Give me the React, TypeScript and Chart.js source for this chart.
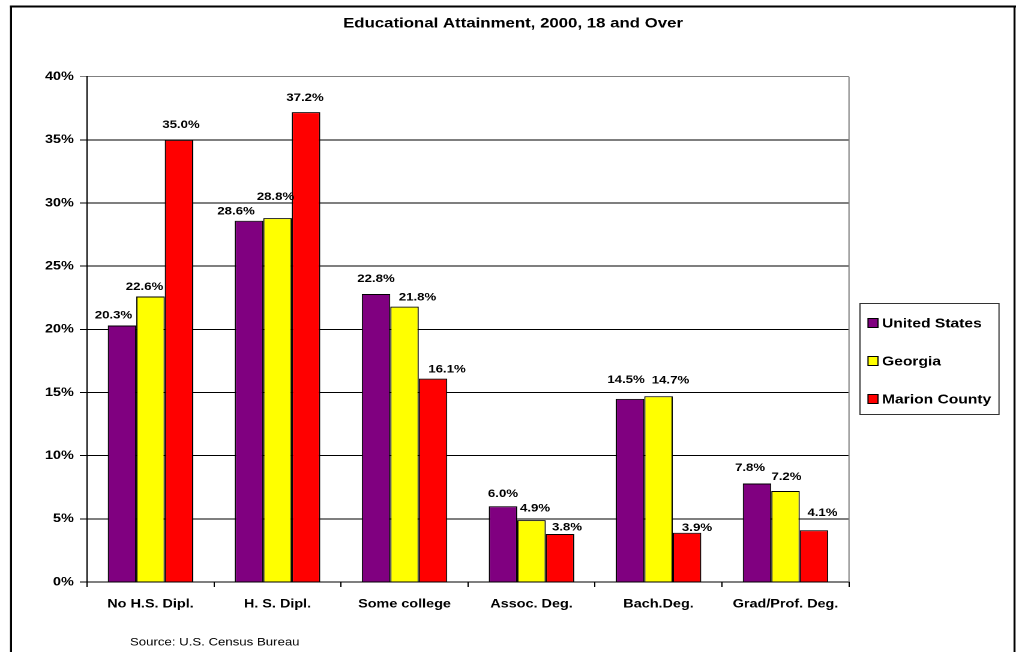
import React, { useEffect, useRef } from "react";
import { Chart, registerables } from "chart.js";

Chart.register(...registerables);

const categories = [
  "No H.S. Dipl.",
  "H. S. Dipl.",
  "Some college",
  "Assoc. Deg.",
  "Bach.Deg.",
  "Grad/Prof. Deg.",
];
const unitedStates = [20.3, 28.6, 22.8, 6.0, 14.5, 7.8];
const georgia = [22.6, 28.8, 21.8, 4.9, 14.7, 7.2];
const marionCounty = [35.0, 37.2, 16.1, 3.8, 3.9, 4.1];
const seriesNames = ["United States", "Georgia", "Marion County"];
const seriesColors = ["#800080", "#FFFF00", "#FF0000"];
const yMin = 0;
const yMax = 40;
const yStep = 5;
const titleText = "Educational Attainment, 2000, 18 and Over";
const sourceText = "Source: U.S. Census Bureau";

// Label nudges (styling only): horizontal shift and gap above bar top, in page px
const labelShiftX = [
  [-8.5, -13, 0, 0, -4, -7],
  [-6, -2, 13, 3.5, 12, 1],
  [2, -1, 14, 7, 10, 8.5],
];
const labelGap = [
  [7, 6, 12, 9, 16, 12.5],
  [6.5, 18, 6, 8.7, 13, 11],
  [12, 11, 6, 3.5, 1.5, 14],
];

const PAGE_W = 1019;
const PAGE_H = 652;
const LOGICAL_W = 849;
const SCALE_X = PAGE_W / LOGICAL_W;
const rx = (x: number) => x / SCALE_X;
const FONT = "'Liberation Sans', Arial, sans-serif";

const decorPlugin = {
  id: "decor",
  beforeDraw(chart: any) {
    const ctx = chart.ctx;
    ctx.save();
    ctx.fillStyle = "#ffffff";
    ctx.fillRect(0, 0, chart.width, chart.height);
    ctx.restore();
  },
  afterDraw(chart: any) {
    const ctx = chart.ctx;
    const a = chart.chartArea;
    ctx.save();

    // plot area right border
    ctx.strokeStyle = "#808080";
    ctx.lineWidth = 1;
    ctx.beginPath();
    ctx.moveTo(a.right, a.top);
    ctx.lineTo(a.right, a.bottom);
    ctx.stroke();

    // data labels
    ctx.fillStyle = "#000";
    ctx.font = `bold 11px ${FONT}`;
    ctx.textAlign = "center";
    ctx.textBaseline = "alphabetic";
    chart.data.datasets.forEach((ds: any, i: number) => {
      const meta = chart.getDatasetMeta(i);
      meta.data.forEach((el: any, j: number) => {
        const v = ds.data[j] as number;
        const dx = rx(labelShiftX[i][j]);
        ctx.fillText(v.toFixed(1) + "%", el.x + dx, el.y - labelGap[i][j]);
      });
    });

    // title
    ctx.font = `bold 14px ${FONT}`;
    ctx.textAlign = "center";
    ctx.fillText(titleText, rx(513), 27.3);

    // source
    ctx.font = `11px ${FONT}`;
    ctx.textAlign = "left";
    ctx.fillText(sourceText, rx(130), 645.7);

    // legend
    const lx0 = rx(860);
    const lx1 = rx(999);
    ctx.strokeStyle = "#333";
    ctx.lineWidth = 1;
    ctx.strokeRect(lx0, 303.5, lx1 - lx0, 111);
    const centers = [323, 361, 399];
    ctx.font = `bold 13px ${FONT}`;
    chart.data.datasets.forEach((ds: any, i: number) => {
      const cy = centers[i];
      const sx = rx(868);
      const sw = rx(878) - rx(868);
      ctx.fillStyle = ds.backgroundColor;
      ctx.fillRect(sx, cy - 4.5, sw, 9);
      ctx.strokeStyle = "#000";
      ctx.strokeRect(sx, cy - 4.5, sw, 9);
      ctx.fillStyle = "#000";
      ctx.textAlign = "left";
      ctx.fillText(ds.label, rx(882), cy + 4.6);
    });

    // outer border
    ctx.fillStyle = "#000";
    ctx.fillRect(rx(10), 5.5, rx(1016) - rx(10), 2);
    ctx.fillRect(rx(10), 5.5, rx(2), PAGE_H + 10);
    ctx.fillRect(rx(1013.5), 5.5, rx(2), PAGE_H + 10);

    ctx.restore();
  },
};

export default function App() {
  const canvasRef = useRef<HTMLCanvasElement | null>(null);

  useEffect(() => {
    if (!canvasRef.current) return;
    const seriesData = [unitedStates, georgia, marionCounty];
    const chart = new Chart(canvasRef.current, {
      type: "bar",
      data: {
        labels: categories,
        datasets: seriesNames.map((name, i) => ({
          label: name,
          data: seriesData[i],
          backgroundColor: seriesColors[i],
          borderColor: "#000",
          borderWidth: 1,
          categoryPercentage: 0.673,
          barPercentage: 1.0,
        })),
      },
      options: {
        animation: false,
        responsive: true,
        maintainAspectRatio: false,
        devicePixelRatio: 2,
        events: [],
        layout: {
          padding: {
            left: 0,
            right: LOGICAL_W - rx(849),
            top: 76.7,
            bottom: 40,
          },
        },
        plugins: {
          legend: { display: false },
          title: { display: false },
          tooltip: { enabled: false },
        },
        scales: {
          x: {
            offset: true,
            grid: {
              display: true,
              drawOnChartArea: false,
              drawTicks: true,
              tickLength: 5,
              color: "#000",
              offset: true,
            },
            border: { display: true, color: "#000", width: 1 },
            ticks: {
              color: "#000",
              font: { family: FONT, size: 12, weight: "bold" },
              padding: 10,
              maxRotation: 0,
              autoSkip: false,
            },
            afterFit: (s: any) => {
              s.height = PAGE_H - 582 - 40;
            },
          },
          y: {
            min: yMin,
            max: yMax,
            grid: {
              color: (c: any) =>
                c.tick && c.tick.value === yMax ? "#808080" : "#000",
              lineWidth: 1,
              drawTicks: true,
              tickLength: 6,
            },
            border: { display: true, color: "#000", width: 1 },
            ticks: {
              stepSize: yStep,
              color: "#000",
              font: { family: FONT, size: 12, weight: "bold" },
              padding: 5,
              callback: (v: any) => v + "%",
            },
            afterFit: (s: any) => {
              s.width = rx(87);
            },
          },
        },
      },
      plugins: [decorPlugin],
    });
    return () => chart.destroy();
  }, []);

  return (
    <div
      style={{
        position: "absolute",
        left: 0,
        top: 0,
        width: PAGE_W,
        height: PAGE_H,
        overflow: "hidden",
        background: "#fff",
      }}
    >
      <div
        style={{
          position: "relative",
          width: LOGICAL_W,
          height: PAGE_H,
          transform: `scaleX(${SCALE_X})`,
          transformOrigin: "0 0",
        }}
      >
        <canvas ref={canvasRef} />
      </div>
    </div>
  );
}
